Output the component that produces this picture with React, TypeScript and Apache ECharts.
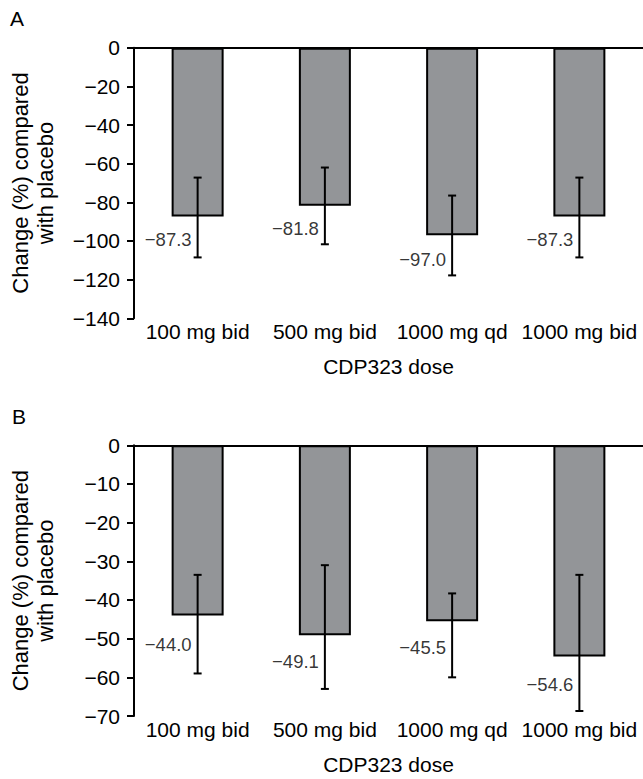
import React, { useEffect, useRef } from "react";
import * as echarts from "echarts";

const categories = ["100 mg bid", "500 mg bid", "1000 mg qd", "1000 mg bid"];

// Panel A
const valuesA = [-87.3, -81.8, -97.0, -87.3];
const errLowA = [-108.5, -101.7, -117.8, -108.5];
const errHighA = [-67.2, -62.0, -76.5, -67.2];
const labelAnchorA = [-99.1, -93.6, -109.5, -99.1];
const yTicksA = [0, -20, -40, -60, -80, -100, -120, -140];

// Panel B
const valuesB = [-44.0, -49.1, -45.5, -54.6];
const errLowB = [-59.0, -63.0, -60.0, -68.7];
const errHighB = [-33.5, -31.0, -38.3, -33.5];
const labelAnchorB = [-51.6, -56.0, -52.2, -61.8];
const yTicksB = [0, -10, -20, -30, -40, -50, -60, -70];

const yTitle = "Change (%) compared\nwith placebo";
const xTitle = "CDP323 dose";

const FONT = "'Liberation Sans', Arial, Helvetica, sans-serif";
const minus = (v: number, digits?: number) => {
  if (v === 0) return "0";
  const s = digits != null ? Math.abs(v).toFixed(digits) : String(Math.abs(v));
  return (v < 0 ? "\u2212" : "") + s;
};

function buildPanel(idx: number, values: number[], lo: number[], hi: number[], anchors: number[], ticks: number[]) {
  const min = Math.min(...ticks);
  const max = Math.max(...ticks);
  const interval = Math.abs(ticks[1] - ticks[0]);
  const xAxes = [
    {
      gridIndex: idx,
      type: "category",
      data: categories,
      position: "bottom",
      axisLine: { show: false, onZero: false },
      axisTick: { show: false },
      axisLabel: { color: "#000", fontSize: 21, fontFamily: FONT, margin: 3, interval: 0 },
      name: xTitle,
      nameLocation: "middle",
      nameGap: 38,
      nameTextStyle: { color: "#000", fontSize: 21, fontFamily: FONT },
    },
    {
      gridIndex: idx,
      type: "category",
      data: categories,
      position: "top",
      axisLine: { show: true, onZero: false, lineStyle: { color: "#000", width: 2 } },
      axisTick: { show: false },
      axisLabel: { show: false },
    },
  ];
  const yAxis = {
    gridIndex: idx,
    type: "value",
    min,
    max,
    interval,
    axisLine: { show: true, lineStyle: { color: "#000", width: 2 } },
    axisTick: { show: true, length: 7, lineStyle: { color: "#000", width: 2 } },
    splitLine: { show: false },
    axisLabel: { color: "#000", fontSize: 21, fontFamily: FONT, margin: 14, formatter: (v: number) => minus(v) },
    name: yTitle,
    nameLocation: "middle",
    nameRotate: 90,
    nameGap: 76,
    nameTextStyle: { color: "#000", fontSize: 22, fontFamily: FONT, lineHeight: 25, align: "center" },
  };
  const xi = idx * 2;
  const series = [
    {
      type: "bar",
      xAxisIndex: xi,
      yAxisIndex: idx,
      data: values,
      barWidth: 52,
      itemStyle: { color: "#939598", borderColor: "#000", borderWidth: 2 },
      silent: true,
    },
    {
      type: "custom",
      xAxisIndex: xi,
      yAxisIndex: idx,
      z: 5,
      silent: true,
      data: categories.map((_, i) => [i, lo[i], hi[i]]),
      encode: { x: 0, y: [1, 2] },
      renderItem: (params: any, api: any) => {
        const x = api.value(0);
        const pLo = api.coord([x, api.value(1)]);
        const pHi = api.coord([x, api.value(2)]);
        const cap = 4;
        const st = { stroke: "#000", lineWidth: 2 };
        return {
          type: "group",
          children: [
            { type: "line", shape: { x1: pLo[0], y1: pLo[1], x2: pHi[0], y2: pHi[1] }, style: st },
            { type: "line", shape: { x1: pLo[0] - cap, y1: pLo[1], x2: pLo[0] + cap, y2: pLo[1] }, style: st },
            { type: "line", shape: { x1: pHi[0] - cap, y1: pHi[1], x2: pHi[0] + cap, y2: pHi[1] }, style: st },
          ],
        };
      },
    },
    {
      type: "scatter",
      xAxisIndex: xi,
      yAxisIndex: idx,
      symbolSize: 0,
      silent: true,
      z: 6,
      data: categories.map((_, i) => [i, anchors[i], values[i]]),
      encode: { x: 0, y: 1 },
      label: {
        show: true,
        position: "left",
        distance: 6,
        color: "#000",
        fontSize: 18.5,
        fontFamily: FONT,
        formatter: (p: any) => minus(p.value[2], 1),
      },
    },
  ];
  return { xAxes, yAxis, series };
}

export default function App() {
  const ref = useRef<HTMLDivElement>(null);
  useEffect(() => {
    if (!ref.current) return;
    const chart = echarts.init(ref.current, undefined, { renderer: "svg" });
    const a = buildPanel(0, valuesA, errLowA, errHighA, labelAnchorA, yTicksA);
    const b = buildPanel(1, valuesB, errLowB, errHighB, labelAnchorB, yTicksB);
    chart.setOption({
      animation: false,
      backgroundColor: "#fff",
      grid: [
        { left: 132, top: 47.7, right: -3, height: 270.6 },
        { left: 132, top: 445.3, right: -3, height: 270.7 },
      ],
      xAxis: [...a.xAxes, ...b.xAxes],
      yAxis: [a.yAxis, b.yAxis],
      series: [...a.series, ...b.series],
      graphic: [
        { type: "text", left: 10, top: 8, style: { text: "A", fill: "#000", fontSize: 21, fontFamily: FONT } },
        { type: "text", left: 12, top: 406, style: { text: "B", fill: "#000", fontSize: 21, fontFamily: FONT } },
      ],
    });
    return () => chart.dispose();
  }, []);
  return <div ref={ref} style={{ position: "absolute", left: 0, top: 0, width: 643, height: 779 }} />;
}
